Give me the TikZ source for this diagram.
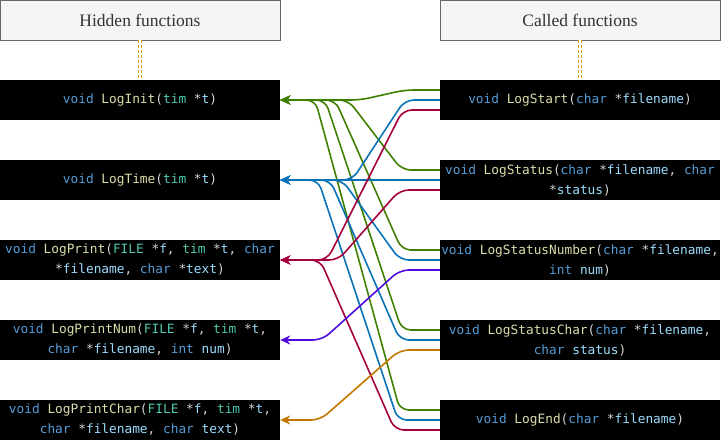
\documentclass[tikz,border=0pt]{standalone}
\usepackage{fontspec}
\setmainfont{Liberation Serif}
\newfontfamily\codefont{DejaVu Sans Mono}
\usetikzlibrary{arrows.meta,calc}
\definecolor{hdrFill}{HTML}{F5F5F5}
\definecolor{hdrLine}{HTML}{666666}
\definecolor{hdrText}{HTML}{333333}
\definecolor{linkOrange}{HTML}{D79B00}
\definecolor{codeKw}{HTML}{569CD6}
\definecolor{codeFn}{HTML}{DCDCAA}
\definecolor{codeTy}{HTML}{4EC9B0}
\definecolor{codeVar}{HTML}{9CDCFE}
\definecolor{codePun}{HTML}{D4D4D4}
\definecolor{cGreen}{RGB}{64,128,0}
\definecolor{cBlue}{RGB}{10,115,184}
\definecolor{cRed}{RGB}{165,0,64}
\definecolor{cViolet}{RGB}{80,10,220}
\definecolor{cAmber}{RGB}{196,118,0}
\newcommand{\cKw}[1]{\textcolor{codeKw}{#1}}
\newcommand{\cFn}[1]{\textcolor{codeFn}{#1}}
\newcommand{\cTy}[1]{\textcolor{codeTy}{#1}}
\newcommand{\cVar}[1]{\textcolor{codeVar}{#1}}
\tikzset{
    header/.style={rectangle,draw=hdrLine,fill=hdrFill,minimum width=280pt,minimum height=40pt,
        inner sep=0pt,text=hdrText,font=\fontsize{17.5}{20}\selectfont},
    code/.style={rectangle,fill=black,minimum width=280pt,minimum height=40pt,inner sep=0pt,
        align=center,text=codePun,font=\fontsize{12.8}{20}\codefont},
    link/.style={draw=linkOrange,line width=1pt,dash pattern=on 3pt off 2pt,double=white,double distance=2.6pt},
    arr/.style={-{Stealth[length=10pt,width=9pt,inset=3pt]},line width=1.6pt,rounded corners=9pt}
}

\begin{document}
\begin{tikzpicture}[x=1pt,y=1pt]
    \useasboundingbox (0,0) rectangle (721,-441);
    % headers
    \node[header] (hidden) at (140,-20) {Hidden functions};
    \node[header] (called) at (580,-20) {Called functions};
    % hidden functions
    \node[code] (init)      at (140,-100) {\cKw{void} \cFn{LogInit}(\cTy{tim} *\cVar{t})};
    \node[code] (time)      at (140,-180) {\cKw{void} \cFn{LogTime}(\cTy{tim} *\cVar{t})};
    \node[code] (print)     at (140,-260) {\cKw{void} \cFn{LogPrint}(\cTy{FILE} *\cVar{f}, \cTy{tim} *\cVar{t}, \cKw{char}\\*\cVar{filename}, \cKw{char} *\cVar{text})};
    \node[code] (printnum)  at (140,-340) {\cKw{void} \cFn{LogPrintNum}(\cTy{FILE} *\cVar{f}, \cTy{tim} *\cVar{t},\\\cKw{char} *\cVar{filename}, \cKw{int} \cVar{num})};
    \node[code] (printchar) at (140,-420) {\cKw{void} \cFn{LogPrintChar}(\cTy{FILE} *\cVar{f}, \cTy{tim} *\cVar{t},\\\cKw{char} *\cVar{filename}, \cKw{char} \cVar{text})};
    % called functions
    \node[code] (start)      at (580,-100) {\cKw{void} \cFn{LogStart}(\cKw{char} *\cVar{filename})};
    \node[code] (status)     at (580,-180) {\cKw{void} \cFn{LogStatus}(\cKw{char} *\cVar{filename}, \cKw{char}\\*\cVar{status})};
    \node[code] (statusnum)  at (580,-260) {\cKw{void} \cFn{LogStatusNumber}(\cKw{char} *\cVar{filename},\\\cKw{int} \cVar{num})};
    \node[code] (statuschar) at (580,-340) {\cKw{void} \cFn{LogStatusChar}(\cKw{char} *\cVar{filename},\\\cKw{char} \cVar{status})};
    \node[code] (logend)     at (580,-420) {\cKw{void} \cFn{LogEnd}(\cKw{char} *\cVar{filename})};

    \draw[link] (hidden) -- (init);
    \draw[link] (called) -- (start);

    % LogInit
    \draw[arr,cGreen] ($(start.west)+(0,10)$) -- ++(-35,0) -- ($(init.east)+(80,0)$) -- (init.east);
    \draw[arr,cGreen] ($(status.west)+(0,10)$) -- ++(-38,0) -- ($(init.east)+(68,0)$) -- (init.east);
    \draw[arr,cGreen] ($(statusnum.west)+(0,10)$) -- ++(-38,0) -- ($(init.east)+(55,0)$) -- (init.east);
    \draw[arr,cGreen] ($(statuschar.west)+(0,10)$) -- ++(-38,0) -- ($(init.east)+(45,0)$) -- (init.east);
    \draw[arr,cGreen] ($(logend.west)+(0,10)$) -- ++(-40,0) -- ($(init.east)+(35,0)$) -- (init.east);
    % LogTime
    \draw[arr,cBlue] (start.west) -- ++(-35,0) -- ($(time.east)+(72,0)$) -- (time.east);
    \draw[arr,cBlue] (status.west) -- (time.east);
    \draw[arr,cBlue] (statusnum.west) -- ++(-40,0) -- ($(time.east)+(62,0)$) -- (time.east);
    \draw[arr,cBlue] (statuschar.west) -- ++(-40,0) -- ($(time.east)+(50,0)$) -- (time.east);
    \draw[arr,cBlue] (logend.west) -- ++(-42,0) -- ($(time.east)+(38,0)$) -- (time.east);
    % LogPrint
    \draw[arr,cRed] ($(start.west)+(0,-10)$) -- ++(-37,0) -- ($(print.east)+(47,0)$) -- (print.east);
    \draw[arr,cRed] ($(status.west)+(0,-10)$) -- ++(-40,0) -- ($(print.east)+(58,0)$) -- (print.east);
    \draw[arr,cRed] ($(logend.west)+(0,-10)$) -- ++(-45,0) -- ($(print.east)+(40,0)$) -- (print.east);
    % LogPrintNum, LogPrintChar
    \draw[arr,cViolet] ($(statusnum.west)+(0,-10)$) -- ++(-40,0) -- ($(printnum.east)+(42,0)$) -- (printnum.east);
    \draw[arr,cAmber] ($(statuschar.west)+(0,-10)$) -- ++(-40,0) -- ($(printchar.east)+(40,0)$) -- (printchar.east);
\end{tikzpicture}
\end{document}
